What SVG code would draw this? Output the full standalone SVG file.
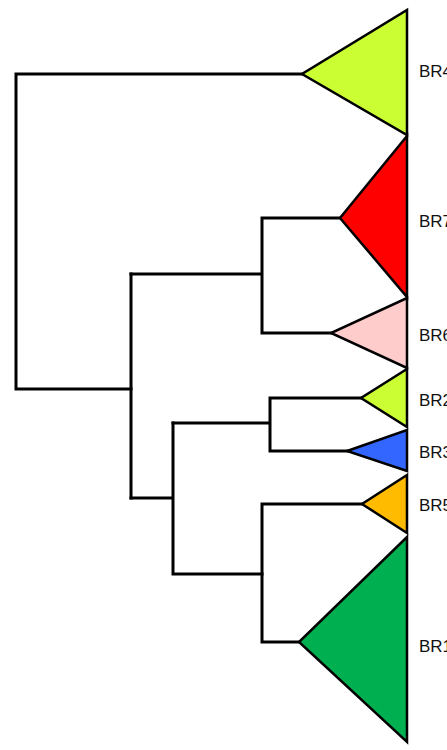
<svg xmlns="http://www.w3.org/2000/svg" width="447" height="750" viewBox="0 0 447 750">
<style>
.e{fill:none;stroke:#000;stroke-width:3;stroke-linecap:square;stroke-linejoin:miter}
.t{stroke:#000;stroke-width:2.5;stroke-linejoin:miter}
.l{font-family:"Liberation Sans",Arial,sans-serif;font-size:17px;fill:#111}
</style>
<rect width="447" height="750" fill="#fff"/>
<g id="edges">
<path class="e" d="M302,74 H16 V389 H131"/>
<path class="e" d="M131,274 V498"/>
<path class="e" d="M131,274 H262 M340,218 H262 V333 H331"/>
<path class="e" d="M131,498 H173 M173,423 V574 H262"/>
<path class="e" d="M173,423 H270 M361,398 H270 V451 H347"/>
<path class="e" d="M362,504 H262 V642 H299"/>
</g>
<g id="BR4"><polygon class="t" fill="#ccff33" points="407,10 407,135 302,74"/><text class="l" x="419" y="77">BR4</text></g>
<g id="BR7"><polygon class="t" fill="#ff0000" points="407,136 407,297 340,218"/><text class="l" x="419" y="227">BR7</text></g>
<g id="BR6"><polygon class="t" fill="#ffcccc" points="407,298 407,368 331,333"/><text class="l" x="419" y="341">BR6</text></g>
<g id="BR2"><polygon class="t" fill="#ccff33" points="407,369 407,427 361,398"/><text class="l" x="419" y="406">BR2</text></g>
<g id="BR3"><polygon class="t" fill="#3366ff" points="407,430 407,471 347,451"/><text class="l" x="419" y="458">BR3</text></g>
<g id="BR5"><polygon class="t" fill="#ffbb00" points="407,475 407,533 362,504"/><text class="l" x="419" y="511">BR5</text></g>
<g id="BR1"><polygon class="t" fill="#00b050" points="407,537 407,742 299,642"/><text class="l" x="419" y="652">BR1</text></g>
</svg>
